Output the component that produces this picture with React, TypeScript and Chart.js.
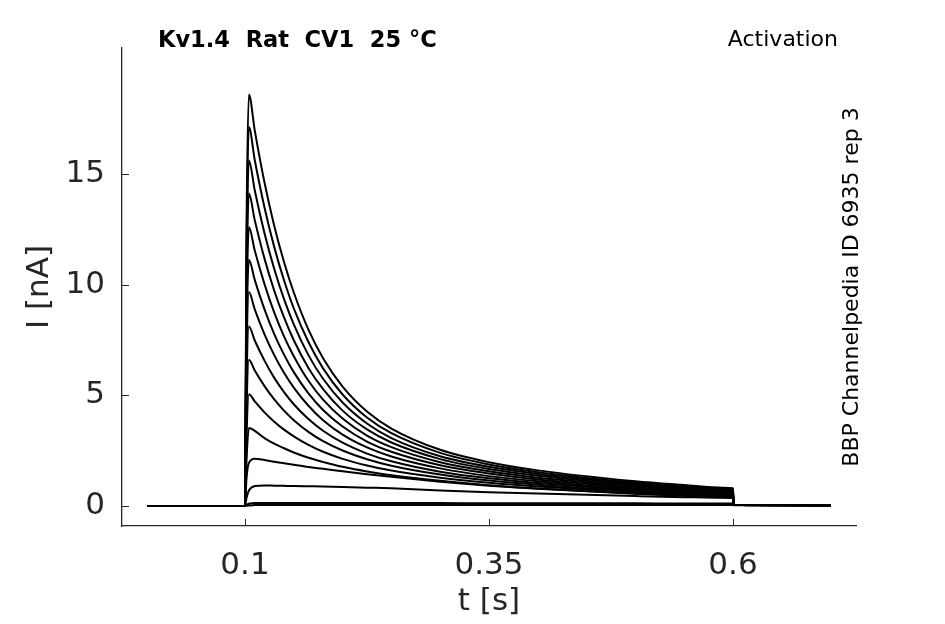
import React, { useEffect, useRef } from 'react';
import { Chart, registerables } from 'chart.js';

Chart.register(...registerables);

// Sample times [s]
const TIMES = [0, 0.1, 0.1015, 0.104, 0.11, 0.12, 0.13, 0.14, 0.15, 0.165, 0.18, 0.2, 0.225, 0.25, 0.3, 0.35, 0.4, 0.5, 0.55, 0.59, 0.6, 0.6005, 0.7];

// Current traces [nA], one per voltage step
const I_STEP_01 = [0, 0, 12.1, 18.6, 16.98, 14.62, 12.66, 11.03, 9.65, 7.97, 6.68, 5.4, 4.27, 3.5, 2.54, 1.98, 1.61, 1.12, 0.95, 0.83, 0.8, 0.05, 0.03];
const I_STEP_02 = [0, 0, 11.1, 17.13, 15.64, 13.49, 11.7, 10.2, 8.93, 7.41, 6.22, 5.04, 4.0, 3.29, 2.4, 1.88, 1.53, 1.06, 0.9, 0.79, 0.76, 0.05, 0.03];
const I_STEP_03 = [0, 0, 10.2, 15.62, 14.27, 12.33, 10.71, 9.35, 8.21, 6.82, 5.75, 4.68, 3.73, 3.07, 2.25, 1.77, 1.45, 1.01, 0.85, 0.75, 0.72, 0.05, 0.03];
const I_STEP_04 = [0, 0, 9.2, 14.12, 12.92, 11.18, 9.73, 8.52, 7.49, 6.24, 5.28, 4.31, 3.46, 2.87, 2.12, 1.67, 1.37, 0.95, 0.81, 0.71, 0.68, 0.05, 0.03];
const I_STEP_05 = [0, 0, 8.2, 12.61, 11.55, 10.03, 8.74, 7.67, 6.77, 5.66, 4.81, 3.95, 3.18, 2.66, 1.98, 1.57, 1.28, 0.9, 0.76, 0.67, 0.64, 0.05, 0.03];
const I_STEP_06 = [0, 0, 7.2, 11.13, 10.22, 8.89, 7.77, 6.84, 6.05, 5.09, 4.34, 3.59, 2.91, 2.45, 1.84, 1.47, 1.2, 0.84, 0.71, 0.62, 0.6, 0.05, 0.03];
const I_STEP_07 = [0, 0, 6.2, 9.67, 8.89, 7.76, 6.82, 6.02, 5.35, 4.53, 3.88, 3.23, 2.65, 2.24, 1.7, 1.35, 1.12, 0.78, 0.66, 0.58, 0.56, 0.05, 0.03];
const I_STEP_08 = [0, 0, 5.2, 8.11, 7.48, 6.57, 5.79, 5.15, 4.6, 3.93, 3.4, 2.86, 2.37, 2.02, 1.55, 1.25, 1.04, 0.73, 0.62, 0.54, 0.52, 0.05, 0.03];
const I_STEP_09 = [0, 0, 4.1, 6.61, 6.12, 5.42, 4.82, 4.31, 3.88, 3.35, 2.93, 2.51, 2.11, 1.82, 1.42, 1.15, 0.96, 0.68, 0.57, 0.5, 0.48, 0.05, 0.03];
const I_STEP_10 = [0, 0, 3.0, 5.05, 4.73, 4.23, 3.81, 3.45, 3.15, 2.76, 2.45, 2.13, 1.83, 1.6, 1.28, 1.05, 0.88, 0.62, 0.52, 0.46, 0.44, 0.05, 0.03];
const I_STEP_11 = [0, 0, 2.0, 3.52, 3.4, 3.07, 2.82, 2.61, 2.42, 2.18, 1.99, 1.77, 1.56, 1.39, 1.14, 0.94, 0.79, 0.56, 0.48, 0.42, 0.4, 0.05, 0.03];
const I_STEP_12 = [0, 0, 1.2, 1.95, 2.14, 2.08, 2.0, 1.93, 1.86, 1.76, 1.68, 1.57, 1.44, 1.32, 1.1, 0.92, 0.78, 0.55, 0.46, 0.4, 0.38, 0.05, 0.03];
const I_STEP_13 = [0, 0, 0.35, 0.7, 0.9, 0.93, 0.92, 0.91, 0.9, 0.89, 0.88, 0.86, 0.83, 0.8, 0.7, 0.62, 0.56, 0.45, 0.4, 0.37, 0.36, 0.05, 0.03];
const I_STEP_14 = [0, 0, 0.05, 0.1, 0.14, 0.14, 0.14, 0.14, 0.14, 0.14, 0.14, 0.14, 0.13, 0.13, 0.13, 0.12, 0.12, 0.12, 0.11, 0.11, 0.11, 0.04, 0.03];
const I_STEP_15 = [0, 0, 0.01, 0.02, 0.04, 0.04, 0.04, 0.04, 0.04, 0.04, 0.04, 0.04, 0.04, 0.04, 0.04, 0.04, 0.04, 0.04, 0.04, 0.04, 0.04, 0.03, 0.03];

const TRACES = [
  I_STEP_01, I_STEP_02, I_STEP_03, I_STEP_04, I_STEP_05, I_STEP_06, I_STEP_07, I_STEP_08,
  I_STEP_09, I_STEP_10, I_STEP_11, I_STEP_12, I_STEP_13, I_STEP_14, I_STEP_15,
];

const X_TICKS = [0.1, 0.35, 0.6];
const Y_TICKS = [0, 5, 10, 15];

const TITLE_LEFT = 'Kv1.4  Rat  CV1  25 °C';
const TITLE_RIGHT = 'Activation';
const SOURCE_TEXT = 'BBP Channelpedia ID 6935 rep 3';
const X_LABEL = 't [s]';
const Y_LABEL = 'I [nA]';

const FONT = '"DejaVu Sans", sans-serif';
const AXIS_COLOR = '#262626';

const overlayPlugin = {
  id: 'overlay',
  afterDraw(chart: any) {
    const { ctx, chartArea, scales } = chart;
    ctx.save();
    ctx.strokeStyle = AXIS_COLOR;
    ctx.lineWidth = 1;
    for (const v of X_TICKS) {
      const px = Math.round(scales.x.getPixelForValue(v)) + 0.5;
      ctx.beginPath();
      ctx.moveTo(px, chartArea.bottom);
      ctx.lineTo(px, chartArea.bottom - 7);
      ctx.stroke();
    }
    for (const v of Y_TICKS) {
      const py = Math.round(scales.y.getPixelForValue(v)) + 0.5;
      ctx.beginPath();
      ctx.moveTo(chartArea.left, py);
      ctx.lineTo(chartArea.left + 7, py);
      ctx.stroke();
    }
    ctx.fillStyle = '#000';
    ctx.textBaseline = 'alphabetic';
    ctx.font = `bold 22.5px ${FONT}`;
    ctx.textAlign = 'left';
    ctx.fillText(TITLE_LEFT, 158, 47);
    ctx.font = `22px ${FONT}`;
    ctx.textAlign = 'right';
    ctx.fillText(TITLE_RIGHT, 838, 46);
    ctx.translate(858, (chartArea.top + chartArea.bottom) / 2);
    ctx.rotate(-Math.PI / 2);
    ctx.textAlign = 'center';
    ctx.fillText(SOURCE_TEXT, 0, 0);
    ctx.restore();
  },
};

export default function App() {
  const canvasRef = useRef<HTMLCanvasElement | null>(null);

  useEffect(() => {
    document.body.style.margin = '0';
    const canvas = canvasRef.current;
    if (!canvas) return;
    const datasets = TRACES.map((trace, i) => ({
      label: `step ${i + 1}`,
      data: TIMES.map((t, j) => ({ x: t, y: trace[j] })),
      borderColor: '#000',
      borderWidth: 2,
      pointRadius: 0,
      fill: false,
      cubicInterpolationMode: 'monotone' as const,
    }));
    const chart = new Chart(canvas, {
      type: 'line',
      data: { datasets },
      plugins: [overlayPlugin],
      options: {
        animation: false,
        responsive: false,
        layout: { padding: { top: 48, right: 89, left: 0, bottom: 0 } },
        plugins: { legend: { display: false }, tooltip: { enabled: false } },
        scales: {
          x: {
            type: 'linear',
            min: -0.026,
            max: 0.726,
            grid: { display: false, drawTicks: false },
            border: { display: true, color: AXIS_COLOR, width: 1.3 },
            afterBuildTicks: (scale: any) => {
              scale.ticks = X_TICKS.map((v) => ({ value: v }));
            },
            afterFit: (scale: any) => {
              scale.height = 98;
            },
            ticks: {
              color: AXIS_COLOR,
              font: { family: FONT, size: 31 },
              padding: 21,
              maxRotation: 0,
              autoSkip: false,
              callback: (v: any) => String(v),
            },
            title: {
              display: true,
              text: X_LABEL,
              color: AXIS_COLOR,
              font: { family: FONT, size: 31 },
              padding: { top: 0, bottom: 3 },
            },
          },
          y: {
            type: 'linear',
            min: -0.904,
            max: 20.7,
            grid: { display: false, drawTicks: false },
            border: { display: true, color: AXIS_COLOR, width: 1.3 },
            afterBuildTicks: (scale: any) => {
              scale.ticks = Y_TICKS.map((v) => ({ value: v }));
            },
            afterFit: (scale: any) => {
              scale.width = 122;
            },
            ticks: {
              color: AXIS_COLOR,
              font: { family: FONT, size: 31 },
              padding: 17,
              autoSkip: false,
              callback: (v: any) => String(v),
            },
            title: {
              display: true,
              text: Y_LABEL,
              color: AXIS_COLOR,
              font: { family: FONT, size: 31 },
              padding: { top: 21, bottom: 0 },
            },
          },
        },
      },
    });
    return () => chart.destroy();
  }, []);

  return (
    <div style={{ width: 945, height: 624, background: '#fff' }}>
      <canvas ref={canvasRef} width={945} height={624} />
    </div>
  );
}
